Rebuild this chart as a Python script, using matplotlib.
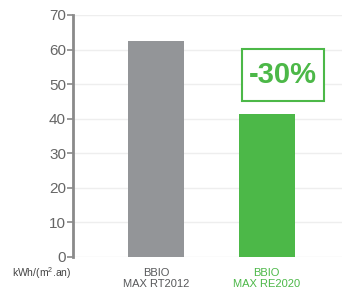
import matplotlib
matplotlib.use("Agg")
import matplotlib.pyplot as plt
from matplotlib.patches import Rectangle

categories = ["BBIO\nMAX RT2012", "BBIO\nMAX RE2020"]
values = [62.4, 41.3]
bar_colors = ["#939598", "#4cb848"]
label_colors = ["#58595b", "#4cb848"]
yticks = [0, 10, 20, 30, 40, 50, 60, 70]
unit_label = "kWh/(m$^2$.an)"
badge = "-30%"

plt.rcParams["font.family"] = ["Liberation Sans", "DejaVu Sans"]
plt.rcParams["mathtext.fontset"] = "custom"
plt.rcParams["mathtext.rm"] = "Liberation Sans"

fig = plt.figure(figsize=(3.42, 2.95), dpi=100)
ax = fig.add_axes([73 / 342, 38 / 295, 269 / 342, 242 / 295])

x = list(range(len(categories)))
ax.bar(x, values, width=0.507, color=bar_colors, zorder=3)

ax.set_xlim(-0.751, 1.683)
ax.set_ylim(0, 70)
ax.set_yticks(yticks)
ax.yaxis.grid(True, color="#eeeeee", linewidth=1, zorder=0)
ax.tick_params(axis="y", colors="#8a8a8a", labelcolor="#666666", labelsize=11,
               length=4, width=1.2, pad=1)
ax.set_xticks([])

for side in ["top", "right", "bottom"]:
    ax.spines[side].set_visible(False)
ax.spines["left"].set_color("#8a8a8a")
ax.spines["left"].set_linewidth(2)

# category labels under bars
for xi, cat, col in zip(x, categories, label_colors):
    ax.text(xi, -3.2, cat, ha="center", va="top", fontsize=8, color=col,
            linespacing=1.15)

fig.text(12 / 342, 1 - 265 / 295, unit_label, ha="left", va="top",
         fontsize=7.5, color="#444444")

# reduction badge
ax.add_patch(Rectangle((0.778, 45.1), 0.742, 15.1, facecolor="white",
                       edgecolor="#4cb848", linewidth=1.5, zorder=4))
ax.text(1.149, 52.6, badge, ha="center", va="center", fontsize=21,
        fontweight="bold", color="#4cb848", zorder=5)

fig.savefig("out.png", dpi=100)
